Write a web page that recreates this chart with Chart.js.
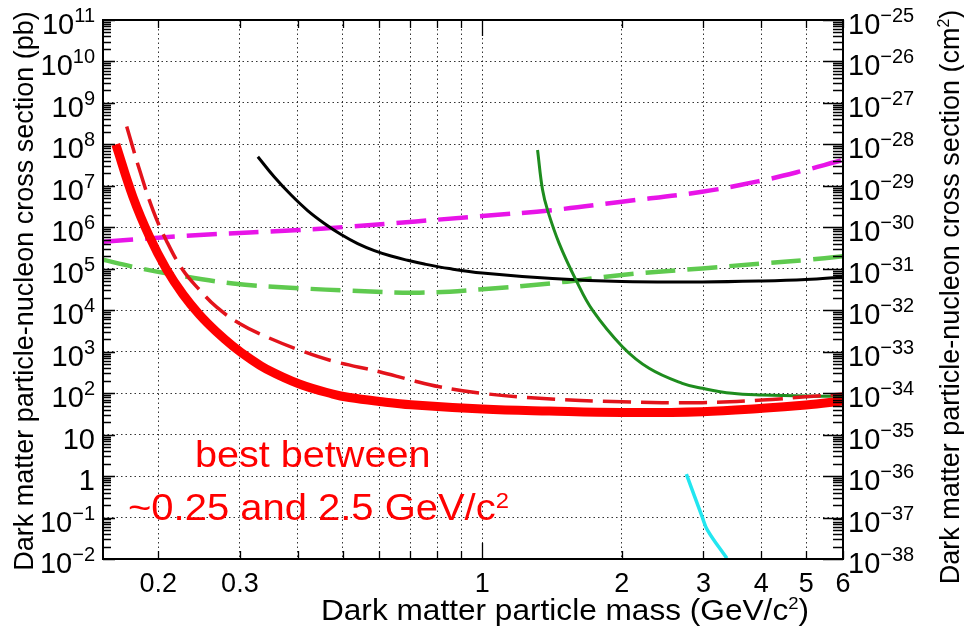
<!DOCTYPE html>
<html>
<head>
<meta charset="utf-8">
<script src="https://cdn.jsdelivr.net/npm/chart.js@4.4.1/dist/chart.umd.min.js"></script>
<style>
  body { margin: 0; background: #fff; }
  canvas { display: block; }
</style>
</head>
<body>
<canvas id="limitcanva" width="964" height="632"></canvas>
<script>
// mass in GeV/c^2, cross section in pb
const thickMass = [0.162, 0.1763, 0.1915, 0.208, 0.226, 0.2455, 0.267, 0.29, 0.315, 0.342, 0.403, 0.476, 0.517, 0.6, 0.702, 1, 1.394, 2, 2.98, 4.02, 4.99, 6];
const thickXsec = [1e8, 5.47e6, 5.93e5, 1.0e5, 2.43e4, 7.8e3, 3.03e3, 1.36e3, 685, 382, 166, 95, 78.5, 63, 52.4, 41.4, 37, 34.1, 35.7, 43, 52, 65];

const dashedMass = [0.171, 0.1823, 0.1948, 0.208, 0.226, 0.2455, 0.267, 0.2994, 0.342, 0.403, 0.476, 0.6, 0.702, 0.808, 1, 1.327, 2, 2.98, 4.02, 4.99, 6];
const dashedXsec = [2.7e8, 2.4e7, 2.6e6, 4.9e5, 9.3e4, 3.1e4, 1.2e4, 4.8e3, 2.3e3, 1.1e3, 596, 329, 207, 143, 99, 75, 62, 59, 68, 82, 95];

const magentaMass = [0.152, 0.2455, 0.403, 0.517, 1, 1.417, 2, 2.98, 4.02, 4.99, 5.78, 6];
const magentaXsec = [4.5e5, 6.5e5, 8.6e5, 1.04e6, 1.87e6, 2.6e6, 4.15e6, 7.2e6, 1.35e7, 2.41e7, 3.76e7, 4.2e7];

const lightGreenMass = [0.152, 0.1763, 0.208, 0.29, 0.403, 0.517, 0.732, 1, 1.417, 2, 2.98, 4.02, 4.99, 6];
const lightGreenXsec = [1.65e5, 1.12e5, 7.8e4, 4.4e4, 3.4e4, 2.96e4, 2.65e4, 3.2e4, 4.5e4, 7.1e4, 1.02e5, 1.35e5, 1.63e5, 2e5];

const blackMass = [0.328, 0.356, 0.387, 0.42, 0.4565, 0.496, 0.5385, 0.585, 0.6356, 0.69, 0.75, 0.849, 1, 1.417, 2, 2.98, 4.02, 4.99, 6];
const blackXsec = [5.05e7, 1.63e7, 6.0e6, 2.54e6, 1.24e6, 6.7e5, 4.06e5, 2.75e5, 2.03e5, 1.6e5, 1.3e5, 1.01e5, 7.9e4, 5.8e4, 4.9e4, 4.8e4, 5.07e4, 5.5e4, 6.3e4];

const darkGreenMass = [1.316, 1.349, 1.383, 1.465, 1.592, 1.729, 2.006, 2.29, 2.7, 2.985, 3.46, 4.02, 4.99, 6];
const darkGreenXsec = [7.3e7, 8e6, 2.6e6, 4.1e5, 5.4e4, 1.0e4, 1.32e3, 398, 173, 131, 99, 90, 85, 85];

const cyanMass = [2.756, 2.98, 3.06, 3.37];
const cyanXsec = [1.12, 0.105, 0.05, 0.0104];

const massTicks = [0.2, 0.3, 0.4, 0.5, 0.6, 0.7, 0.8, 0.9, 1, 2, 3, 4, 5, 6];
const massLabels = [0.2, 0.3, 1, 2, 3, 4, 5, 6];
const pbTickLabels = ['10^11', '10^10', '10^9', '10^8', '10^7', '10^6', '10^5', '10^4', '10^3', '10^2', '10', '1', '10^-1', '10^-2'];
const cm2TickLabels = ['10^-25', '10^-26', '10^-27', '10^-28', '10^-29', '10^-30', '10^-31', '10^-32', '10^-33', '10^-34', '10^-35', '10^-36', '10^-37', '10^-38'];

const FONT = "'Liberation Sans', Arial, Helvetica, sans-serif";
const GRID = 'rgba(30,30,30,0.9)';

function series(xs, ys, color, width, dash) {
  return {
    data: xs.map((x, i) => ({ x: x, y: ys[i] })),
    borderColor: color,
    borderWidth: width,
    borderDash: dash || [],
    pointRadius: 0,
    fill: false
  };
}

function labelValue(s) {
  const p = s.split('^');
  return p.length > 1 ? Math.pow(10, Number(p[1])) : Number(s);
}

function labelParts(s) {
  const p = s.split('^');
  const parts = [[p[0], false]];
  if (p.length > 1) parts.push([p[1].replace('-', '\u2212'), true]);
  return parts;
}

// text with optional superscripts; parts = [[text, isSup], ...]
function drawRich(ctx, parts, x, y, o) {
  const size = o.size, sup = o.sup, raise = o.raise, sx = o.sx || 1;
  const widths = parts.map(([t, s]) => {
    ctx.font = (s ? sup : size) + 'px ' + FONT;
    return ctx.measureText(t).width;
  });
  const total = widths.reduce((a, b) => a + b, 0);
  let cx = o.align === 'right' ? -total : o.align === 'center' ? -total / 2 : 0;
  ctx.save();
  ctx.translate(x, y);
  if (o.rotate) ctx.rotate(o.rotate);
  ctx.scale(sx, 1);
  ctx.fillStyle = o.color || '#000';
  ctx.textBaseline = 'alphabetic';
  ctx.textAlign = 'left';
  parts.forEach(([t, s], i) => {
    ctx.font = (s ? sup : size) + 'px ' + FONT;
    ctx.fillText(t, cx, s ? -raise : 0);
    cx += widths[i];
  });
  ctx.restore();
}

const framePlugin = {
  id: 'frame',
  afterDraw(chart) {
    const ctx = chart.ctx;
    const a = chart.chartArea;
    const x = chart.scales.x, y = chart.scales.y, y2 = chart.scales.y2;

    ctx.save();
    ctx.strokeStyle = '#000';
    ctx.lineWidth = 1.3;
    ctx.beginPath();
    // minor + major ticks on both vertical axes
    for (let k = -2; k <= 10; k++) {
      for (let m = 2; m <= 9; m++) {
        const py = Math.round(y.getPixelForValue(m * Math.pow(10, k))) + 0.5;
        ctx.moveTo(a.left, py); ctx.lineTo(a.left + 8, py);
        ctx.moveTo(a.right, py); ctx.lineTo(a.right - 10, py);
      }
    }
    pbTickLabels.forEach(s => {
      const py = Math.round(y.getPixelForValue(labelValue(s))) + 0.5;
      ctx.moveTo(a.left, py); ctx.lineTo(a.left + 12, py);
    });
    cm2TickLabels.forEach(s => {
      const py = Math.round(y2.getPixelForValue(labelValue(s))) + 0.5;
      ctx.moveTo(a.right, py); ctx.lineTo(a.right - 20, py);
    });
    // ticks on top and bottom
    massTicks.forEach(v => {
      const px = Math.round(x.getPixelForValue(v)) + 0.5;
      const len = v === 1 ? 16 : 8;
      ctx.moveTo(px, a.top); ctx.lineTo(px, a.top + len);
      ctx.moveTo(px, a.bottom); ctx.lineTo(px, a.bottom - len);
    });
    ctx.stroke();

    ctx.lineWidth = 2;
    ctx.strokeRect(a.left, a.top, a.right - a.left, a.bottom - a.top);
    ctx.restore();

    // decade labels
    pbTickLabels.forEach(s => {
      const py = y.getPixelForValue(labelValue(s));
      drawRich(ctx, labelParts(s), 95, py + 14, { size: 29, sup: 20, raise: 12, align: 'right' });
    });
    cm2TickLabels.forEach(s => {
      const py = y2.getPixelForValue(labelValue(s));
      drawRich(ctx, labelParts(s), 848, py + 14, { size: 29, sup: 20, raise: 12, align: 'left' });
    });

    // axis titles
    drawRich(ctx, [['Dark matter particle mass (GeV/c', false], ['2', true], [')', false]], 565, 620,
      { size: 29, sup: 17, raise: 11, align: 'center', sx: 1.09 });
    drawRich(ctx, [['Dark matter particle-nucleon cross section (pb)', false]], 33, 291,
      { size: 27, sup: 16, raise: 10, align: 'center', rotate: -Math.PI / 2 });
    drawRich(ctx, [['Dark matter particle-nucleon cross section (cm', false], ['2', true], [')', false]], 959, 297,
      { size: 27, sup: 16, raise: 10, align: 'center', rotate: -Math.PI / 2 });

    // note
    drawRich(ctx, [['best between', false]], 195, 467,
      { size: 37, sup: 22, raise: 10, align: 'left', sx: 1.07, color: '#ff0000' });
    drawRich(ctx, [['~0.25 and 2.5 GeV/c', false], ['2', true]], 128, 520,
      { size: 37, sup: 22, raise: 12, align: 'left', sx: 1.08, color: '#ff0000' });
  }
};

const canva = document.querySelector('#limitcanva');

const chart = new Chart(canva, {
  type: 'line',
  data: {
    datasets: [
      series(thickMass, thickXsec, '#ff0000', 9),
      series(dashedMass, dashedXsec, '#e3131b', 3.5, [28, 10]),
      series(darkGreenMass, darkGreenXsec, '#1e8c1e', 3),
      series(blackMass, blackXsec, '#000000', 3),
      series(cyanMass, cyanXsec, '#22e6f0', 3.5),
      series(magentaMass, magentaXsec, '#e814e8', 4.5, [30, 12]),
      series(lightGreenMass, lightGreenXsec, '#5fca4f', 4.5, [30, 12])
    ]
  },
  options: {
    responsive: false,
    animation: false,
    devicePixelRatio: 1,
    layout: { padding: { top: 20, left: 0, right: 0, bottom: 0 } },
    elements: { line: { tension: 0.4, borderCapStyle: 'butt', borderJoinStyle: 'round' } },
    plugins: { legend: { display: false }, tooltip: { enabled: false } },
    scales: {
      x: {
        type: 'logarithmic',
        min: 0.152,
        max: 6,
        afterBuildTicks: s => { s.ticks = massTicks.map(v => ({ value: v })); },
        afterFit: s => { s.height = 73; },
        ticks: {
          autoSkip: false,
          maxRotation: 0,
          padding: 9,
          color: '#000',
          font: { family: FONT, size: 27 },
          callback: v => massLabels.includes(v) ? String(v) : ''
        },
        grid: { color: GRID, lineWidth: 1, drawTicks: false },
        border: { display: false, dash: [1.5, 3] }
      },
      y: {
        type: 'logarithmic',
        min: 1e-2,
        max: 1e11,
        afterBuildTicks: s => { s.ticks = pbTickLabels.map(t => ({ value: labelValue(t) })); },
        afterFit: s => { s.width = 103; },
        ticks: { display: false },
        grid: { color: GRID, lineWidth: 1, drawTicks: false },
        border: { display: false, dash: [1.5, 3] }
      },
      y2: {
        type: 'logarithmic',
        axis: 'y',
        position: 'right',
        min: 1e-38,
        max: 1e-25,
        afterFit: s => { s.width = 121; },
        ticks: { display: false },
        grid: { display: false },
        border: { display: false }
      }
    }
  },
  plugins: [framePlugin]
});
</script>
</body>
</html>
